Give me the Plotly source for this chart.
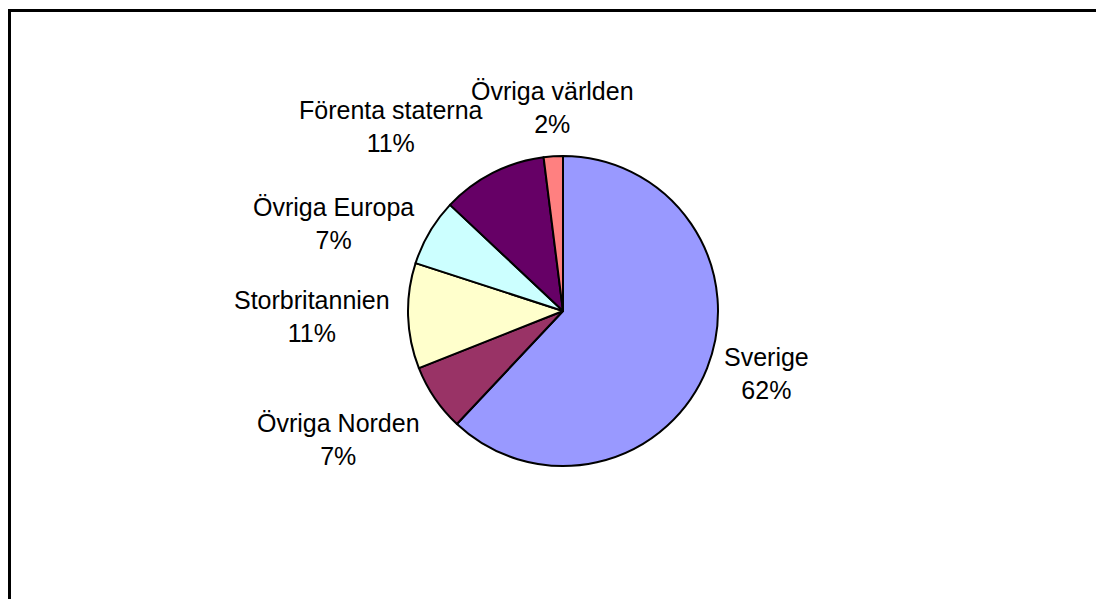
import math
import plotly.graph_objects as go

# Data
regions = ["Sverige", "Övriga Norden", "Storbritannien", "Övriga Europa",
           "Förenta staterna", "Övriga världen"]
shares = [62, 7, 11, 7, 11, 2]
colors = ["#9999FF", "#993366", "#FFFFCC", "#CCFFFF", "#660066", "#FF8080"]

# The page body adds an 8px margin around the figure
OFF = 8
W, H = 1104 - 2 * OFF, 607 - 2 * OFF


def px_x(x):  # window pixel -> paper fraction
    return (x - OFF) / W


def px_y(y):
    return 1 - (y - OFF) / H


dom_x = [px_x(408), px_x(718)]
dom_y = [px_y(466), px_y(156)]

fig = go.Figure()
# Empty cartesian trace: only used so the frame (top and left axis lines) is drawn
fig.add_trace(go.Scatter(x=[], y=[], showlegend=False, hoverinfo="skip"))
fig.add_trace(go.Pie(
    labels=regions,
    values=shares,
    sort=False,
    direction="clockwise",
    rotation=0,
    marker=dict(colors=colors, line=dict(color="black", width=2)),
    textinfo="none",
    hoverinfo="label+percent",
    domain=dict(x=dom_x, y=dom_y),
    showlegend=False,
))

# Labels placed outside the pie at slice mid-angles (computed from the data)
cx_px = (408 + 718) / 2
cy_px = (156 + 466) / 2
radius = (718 - 408) / 2
label_r = radius + 16
total = sum(shares)
cum = 0
annotations = []
for name, v in zip(regions, shares):
    mid = (cum + v / 2) / total * 2 * math.pi
    cum += v
    dx, dy = math.sin(mid), -math.cos(mid)  # screen coordinates (y down)
    px = cx_px + label_r * dx
    py = cy_px + label_r * dy
    if dx > 0.2:
        xa = "left"
    elif dx < -0.2:
        xa = "right"
    else:
        xa = "center"
    if dy > 0.4:
        ya = "top"
    elif dy < -0.6:
        ya = "bottom"
    else:
        ya = "middle"
    pct = round(v / total * 100)
    annotations.append(dict(
        x=px_x(px), y=px_y(py), xref="paper", yref="paper",
        text=f"{name}<br>{pct}%", showarrow=False,
        xanchor=xa, yanchor=ya, align="center",
        font=dict(family="Liberation Sans, Arial, sans-serif", size=25, color="black"),
    ))

axis_common = dict(showgrid=False, zeroline=False, showticklabels=False, ticks="",
                   showline=True, linecolor="black", linewidth=2.5, fixedrange=True)
fig.update_layout(
    width=W, height=H,
    margin=dict(l=0, r=0, t=0, b=0),
    paper_bgcolor="white",
    plot_bgcolor="rgba(0,0,0,0)",
    annotations=annotations,
    xaxis=dict(domain=[px_x(10.5), 1], side="top", range=[0, 1], **axis_common),
    yaxis=dict(domain=[0, px_y(11.5)], range=[0, 1], **axis_common),
)

fig.write_html("out.html")
